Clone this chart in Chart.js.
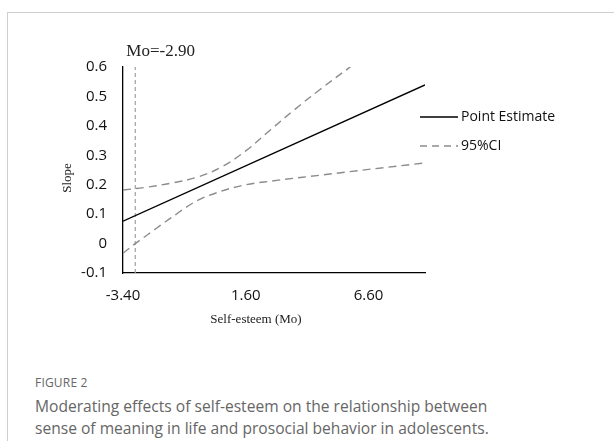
<!DOCTYPE html>
<html>
<head>
<meta charset="utf-8">
<script src="https://cdn.jsdelivr.net/npm/chart.js@4.4.1/dist/chart.umd.min.js"></script>
<style>
  body { margin: 0; background: #fff; width: 614px; height: 441px; overflow: hidden; position: relative; }
  .frame { position: absolute; left: 7px; top: 12px; width: 620px; height: 440px; border-left: 1px solid #cfcfcf; border-top: 1px solid #cfcfcf; }
  #wrap { position: absolute; left: 0; top: 0; width: 614px; height: 345px; }
  .fig { position: absolute; left: 35px; top: 374px; font: 12px 'Open Sans', sans-serif; color: #666; letter-spacing: 0.2px; }
  .cap { position: absolute; left: 35px; top: 395px; width: 520px; font: 15.6px/22px 'Open Sans', sans-serif; color: #666; }
</style>
</head>
<body>
<div class="frame"></div>
<div id="wrap"><canvas id="chart"></canvas></div>
<div class="fig">FIGURE 2</div>
<div class="cap">Moderating effects of self-esteem on the relationship between<br>sense of meaning in life and prosocial behavior in adolescents.</div>
<script>
// values
const xTicks = [-3.4, 1.6, 6.6];
const yTicks = [-0.1, 0, 0.1, 0.2, 0.3, 0.4, 0.5, 0.6];

const estX = [-3.4, 8.9];
const estY = [0.076, 0.539];

const upperX = [-3.4, -2.4, -1.4, -0.4, 0.6, 1.6, 2.6, 3.6, 4.6, 5.9];
const upperY = [0.182, 0.192, 0.206, 0.225, 0.26, 0.315, 0.386, 0.456, 0.522, 0.603];

const lowerX = [-3.4, -2.9, -2.4, -1.4, -0.4, 0.6, 1.6, 2.6, 4.6, 6.6, 8.9];
const lowerY = [-0.033, 0.0, 0.03, 0.09, 0.145, 0.178, 0.2, 0.212, 0.232, 0.252, 0.274];

const moValue = -2.9;
const moLabel = 'Mo=-2.90';
const xTitle = 'Self-esteem (Mo)';
const yTitle = 'Slope';

const pts = (xs, ys) => xs.map((x, i) => ({ x: x, y: ys[i] }));

const overlay = {
    id: 'overlay',
    afterDraw(chart) {
        const c = chart.ctx;
        const xs = chart.scales.x;
        const area = chart.chartArea;
        c.save();
        c.fillStyle = '#222';
        c.textBaseline = 'middle';
        // Mo label
        c.font = "17px 'Liberation Serif', serif";
        c.textAlign = 'left';
        c.fillText(moLabel, xs.getPixelForValue(moValue) - 9, 52);
        // axis titles
        c.font = "13px 'Liberation Serif', serif";
        c.textAlign = 'center';
        c.fillText(xTitle, 256, 320);
        c.save();
        c.translate(68, (area.top + area.bottom) / 2 + 8);
        c.rotate(-Math.PI / 2);
        c.fillText(yTitle, 0, 0);
        c.restore();
        // legend
        const lx = 420, lw = 38;
        const rows = [
            { y: 117, text: 'Point Estimate', color: '#000', dash: [] },
            { y: 146, text: '95%CI', color: '#8c8c8c', dash: [7, 5] }
        ];
        c.textAlign = 'left';
        rows.forEach(r => {
            c.beginPath();
            c.strokeStyle = r.color;
            c.lineWidth = 1.4;
            c.setLineDash(r.dash);
            c.moveTo(lx, r.y);
            c.lineTo(lx + lw, r.y);
            c.stroke();
            c.setLineDash([]);
            c.fillStyle = '#111';
            c.font = "14px 'Open Sans', sans-serif";
            c.fillText(r.text, lx + lw + 3, r.y);
        });
        c.restore();
    }
};

new Chart(document.getElementById('chart'), {
    type: 'line',
    data: {
        datasets: [
            { label: 'Point Estimate', data: pts(estX, estY), borderColor: '#000', borderWidth: 1.4, pointRadius: 0 },
            { label: '95%CI', data: pts(upperX, upperY), borderColor: '#8c8c8c', borderWidth: 1.4, borderDash: [8, 5], pointRadius: 0, tension: 0.4 },
            { label: '95%CI lower', data: pts(lowerX, lowerY), borderColor: '#8c8c8c', borderWidth: 1.4, borderDash: [8, 5], pointRadius: 0, cubicInterpolationMode: 'monotone' },
            { label: 'Mo', data: [{ x: moValue, y: yTicks[0] }, { x: moValue, y: yTicks[yTicks.length - 1] }], borderColor: '#a0a0a0', borderWidth: 1.2, borderDash: [4, 3], pointRadius: 0 }
        ]
    },
    options: {
        responsive: true, maintainAspectRatio: false, animation: false,
        layout: { padding: { left: 0, right: 189, top: 67, bottom: 0 } },
        plugins: { legend: { display: false }, tooltip: { enabled: false } },
        scales: {
            x: {
                type: 'linear', min: -3.4, max: 8.9,
                grid: { display: false, drawTicks: false },
                border: { color: '#000', width: 1.3 },
                afterBuildTicks: s => { s.ticks = xTicks.map(v => ({ value: v })); },
                afterFit: s => { s.height = 72; },
                ticks: { padding: 14, color: '#111', font: { family: "'Open Sans', sans-serif", size: 15 }, callback: v => v.toFixed(2), maxRotation: 0, autoSkip: false }
            },
            y: {
                min: -0.1, max: 0.6,
                grid: { display: false, drawTicks: false },
                border: { color: '#000', width: 1.3 },
                afterBuildTicks: s => { s.ticks = yTicks.map(v => ({ value: v })); },
                afterFit: s => { s.width = 123; },
                ticks: { padding: 16, color: '#111', font: { family: "'Open Sans', sans-serif", size: 15 }, callback: v => Math.abs(v) < 1e-9 ? '0' : v.toFixed(1) }
            }
        }
    },
    plugins: [overlay]
});
</script>
</body>
</html>
